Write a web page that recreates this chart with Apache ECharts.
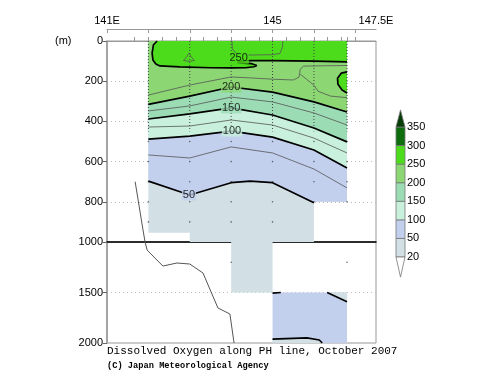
<!DOCTYPE html>
<html><head><meta charset="utf-8">
<script src="https://cdn.jsdelivr.net/npm/echarts@6/dist/echarts.min.js"></script>
<style>html,body{margin:0;padding:0;background:#fff}#c{width:500px;height:387px}</style>
</head><body><div id="c"></div>
<script>
// ---- axes / ticks ----
const lonMin = 141, lonMax = 147.5;
const lonLabelValues = [141, 145, 147.5];
const lonLabelTexts = ['141E', '145', '147.5E'];
const lonMajorTicks = [141, 142, 143, 144, 145, 146, 147];
const lonMinorTicks = [141.667, 142, 142.333, 142.667, 143, 143.333, 143.667, 144, 144.333, 144.667, 145, 145.333, 145.667, 146, 146.333, 146.667, 146.8, 147];
const stations = [142.0, 143.0, 144.0, 145.0, 146.0, 146.8];

// ---- colour scale ----
const bandLevels = [20, 50, 100, 150, 200, 250, 300, 350];
const bandColors = ['#d2dfe5', '#c2d0ee', '#c8f0dc', '#9cdcb4', '#8cd674', '#4cdc1c', '#0e6e0e'];
const overColor = '#083c08', underColor = '#ffffff';

// ---- data coverage (lon, depth m) ----
const regionUpper = [[142,0],[142,954],[143,954],[143,1000],[146,1000],[146,800],[146.8,800],[146.8,0]];
const regionLowerA = [[144,1000],[145,1000],[145,1500],[144,1500]];
const regionLowerB = [[145,1500],[146.8,1500],[146.8,2000],[145,2000]];

// ---- contours [lon, depth m] ----
const c250 = [[142.21,0],[142.12,20],[142.09,60],[142.11,95],[142.18,114],[142.28,124],[142.76,129],[143.5,133],[144.0,134],[144.35,133],[144.55,128],[144.62,122],[144.5,113],[144.3,110],[144.15,106],[144.25,100],[144.5,97],[145.0,98],[146.0,100],[146.8,104]];
const c250lobe = [[146.8,154],[146.66,160],[146.57,185],[146.58,215],[146.68,244],[146.8,259]];
const c275a = [[142.98,60],[142.92,80],[142.85,97],[142.98,101],[143.11,97],[143.04,80],[142.98,60]];
const c275b = [[144.02,0],[144.03,40],[144.12,62],[144.4,70],[145.0,68],[145.18,62],[145.24,30],[145.25,0]];
const c225a = [[142,269],[143,219],[144,179],[144.5,184],[145,190],[145.5,194],[145.64,180],[145.67,140],[145.75,125],[146.3,123],[146.8,122]];
const c225b = [[145.67,165],[145.82,190],[146.0,220],[146.1,250],[146.4,274],[146.8,282]];
const c200 = [[142,315],[143,274],[144,229],[145,254],[146,303],[146.8,353]];
const c175 = [[142,348],[143,323],[144,279],[145,303],[146,358],[146.8,418]];
const c150 = [[142,388],[143,363],[144,333],[145,368],[146,433],[146.8,502]];
const c125 = [[142,428],[143,423],[144,393],[145,418],[146,483],[146.8,557]];
const c100 = [[142,488],[143,473],[144,448],[145,478],[146,542],[146.8,632]];
const c75  = [[142,567],[143,582],[144,527],[145,557],[146,637],[146.8,731]];
const c50  = [[142,697],[143,766],[144,705],[144.46,697],[145,705],[146,805]];
const c50deep = [[145,1962],[145.5,1955],[145.83,1950],[146.13,1970],[146.2,2000]];
const c50topL = [[145,1506],[145.2,1500]];
const c50topR = [[146.32,1500],[146.8,1592]];

// contour labels [lon, depth, text, bg band index]
const contourLabels = [[144.18,86,'250',5],[144.0,229,'200',4],[144.0,333,'150',3],[144.02,448,'100',2],[142.98,766,'50',1]];

// bottom topography line
const bottomUpper = [[141.68,700],[141.87,940],[141.92,1000]];
const bottomLower = [[141.92,1000],[141.97,1080],[142.35,1238],[142.69,1208],[143.0,1218],[143.32,1307],[143.68,1653],[143.97,1713],[144.07,2000]];

// sample depths
const profileDotted = 450;
const sampleDepthsDeep = [500, 600, 700, 800, 900];
const stationBottom = [954, 1000, 1000, 1000, 800, 800];
const lowerSamples = [[144,1200],[146.8,1200]];

// ---- build ----
const fillsUpper = [
  {poly: regionUpper, color: bandColors[0]},
  {poly: [[142,0]].concat(c50, [[146,800],[146.8,800],[146.8,0]]), color: bandColors[1]},
  {poly: [[142,0]].concat(c100, [[146.8,0]]), color: bandColors[2]},
  {poly: [[142,0]].concat(c150, [[146.8,0]]), color: bandColors[3]},
  {poly: [[142,0]].concat(c200, [[146.8,0]]), color: bandColors[4]},
  {poly: c250.concat([[146.8,0]]), color: bandColors[5]},
  {poly: c250lobe, color: bandColors[5]}
];
const fillsLower = [
  {poly: regionLowerA, color: bandColors[0]},
  {poly: regionLowerB, color: bandColors[1]},
  {poly: c50deep.concat([[145,2000]]), color: bandColors[0]},
  {poly: c50topR.concat([[146.8,1500]]), color: bandColors[0]},
  {poly: c50topL.concat([[145,1500]]), color: bandColors[0]}
];

function polySeries(fills, gi) {
  return {
    type: 'custom', xAxisIndex: gi === 0 ? 0 : 2, yAxisIndex: gi, clip: true, silent: true,
    data: fills.map((f, i) => [i, 0]),
    renderItem: function (params, api) {
      const f = fills[params.dataIndex];
      return {type: 'polygon', shape: {points: f.poly.map(p => api.coord(p))}, style: {fill: f.color}};
    }
  };
}
function lineS(data, gi, thick, extra) {
  return Object.assign({
    type: 'line', xAxisIndex: gi === 0 ? 0 : 2, yAxisIndex: gi, data: data, symbol: 'none', silent: true,
    lineStyle: thick ? {color: '#000', width: 1.7} : {color: '#555', width: 0.8}, z: 3
  }, extra || {});
}

const series = [];
series.push(polySeries(fillsUpper, 0));
series.push(polySeries(fillsLower, 1));
// station sample dots / dotted profiles
stations.forEach((s, i) => {
  series.push(lineS([[s, 0], [s, Math.min(profileDotted, stationBottom[i])]], 0, false,
    {lineStyle: {color: '#444', width: 1, type: [1, 2]}, z: 2}));
});
const deepDots = [];
stations.forEach((s, i) => sampleDepthsDeep.forEach(d => { if (d <= stationBottom[i]) deepDots.push([s, d]); }));
series.push({type: 'scatter', xAxisIndex: 0, yAxisIndex: 0, data: deepDots, symbolSize: 1.6, itemStyle: {color: '#444'}, silent: true, z: 2});
series.push({type: 'scatter', xAxisIndex: 2, yAxisIndex: 1, data: lowerSamples, symbolSize: 1.6, itemStyle: {color: '#444'}, silent: true, z: 2});
// contours
[c275a, c275b, c225a, c225b, c175, c125, c75].forEach(c => series.push(lineS(c, 0, false)));
[c250, c250lobe, c200, c150, c100, c50].forEach(c => series.push(lineS(c, 0, true)));
[c50deep, c50topL, c50topR].forEach(c => series.push(lineS(c, 1, true)));
// bottom line
series.push(lineS(bottomUpper, 0, false, {lineStyle: {color: '#555', width: 1}, z: 4}));
series.push(lineS(bottomLower, 1, false, {lineStyle: {color: '#555', width: 1}, z: 4}));
// contour labels
series.push({
  type: 'scatter', xAxisIndex: 0, yAxisIndex: 0, symbolSize: 0, silent: true, z: 6,
  data: contourLabels.map(l => ({value: [l[0], l[1]], label: {backgroundColor: bandColors[l[3]]}})),
  label: {show: true, position: 'inside', fontSize: 11, color: '#000', padding: [0, 1],
    formatter: p => contourLabels[p.dataIndex][2]}
});
// colour bar
series.push({
  type: 'custom', xAxisIndex: 3, yAxisIndex: 2, silent: true, clip: false,
  data: bandColors.map((c, i) => [i, 0]),
  renderItem: function (params, api) {
    const i = params.dataIndex;
    const a = api.coord([0, i]), b = api.coord([1, i + 1]);
    return {type: 'rect', shape: {x: a[0], y: b[1], width: b[0] - a[0], height: a[1] - b[1]},
      style: {fill: bandColors[i], stroke: '#777', lineWidth: 0.8}};
  }
});
series.push({
  type: 'custom', xAxisIndex: 3, yAxisIndex: 2, silent: true, clip: false,
  data: [[0, 0], [1, 0]],
  renderItem: function (params, api) {
    const top = params.dataIndex === 0;
    const base = top ? bandColors.length : 0;
    const apex = top ? base + 0.92 : base - 1.08;
    const pts = [api.coord([0, base]), api.coord([1, base]), api.coord([0.5, apex])];
    return {type: 'polygon', shape: {points: pts},
      style: {fill: top ? overColor : underColor, stroke: '#777', lineWidth: 0.8}};
  }
});

const gray = '#999';
const option = {
  animation: false,
  textStyle: {fontFamily: 'Liberation Sans, Arial, sans-serif'},
  title: [
    {text: 'Dissolved Oxygen along PH line, October 2007', left: 107, top: 346, padding: 0,
      textStyle: {fontFamily: 'Liberation Mono, monospace', fontSize: 11, fontWeight: 'normal', color: '#000'}},
    {text: '(C) Japan Meteorological Agency', left: 107, top: 361, padding: 0,
      textStyle: {fontFamily: 'Liberation Mono, monospace', fontSize: 8.7, fontWeight: 'bold', color: '#000'}},
    {text: '(m)', left: 55, top: 35, padding: 0,
      textStyle: {fontFamily: 'Liberation Sans, Arial, sans-serif', fontSize: 11, fontWeight: 'normal', color: '#000'}}
  ],
  grid: [
    {left: 107, top: 41, width: 269, height: 201, show: true, borderColor: gray, borderWidth: 1, backgroundColor: 'transparent'},
    {left: 107, top: 242, width: 269, height: 101, show: true, borderColor: gray, borderWidth: 1, backgroundColor: 'transparent'},
    {left: 396, top: 108.43, width: 9, height: 169}
  ],
  xAxis: [
    {type: 'value', gridIndex: 0, min: lonMin, max: lonMax, position: 'top',
      axisLine: {show: true, lineStyle: {color: gray, width: 1}},
      axisTick: {show: true, customValues: lonMinorTicks, length: 4, inside: false, lineStyle: {color: gray}},
      axisLabel: {show: false}, splitLine: {show: false}},
    {type: 'value', gridIndex: 0, min: lonMin, max: lonMax, position: 'top', offset: 12,
      axisLine: {show: true, lineStyle: {color: gray, width: 1}},
      axisTick: {show: true, customValues: lonMajorTicks, length: 4, inside: true, lineStyle: {color: gray}},
      axisLabel: {show: true, customValues: lonLabelValues, fontSize: 11, color: '#000', margin: 3,
        formatter: v => lonLabelTexts[lonLabelValues.indexOf(v)] || ''},
      splitLine: {show: false}},
    {type: 'value', gridIndex: 1, min: lonMin, max: lonMax, position: 'top',
      axisLine: {show: true, lineStyle: {color: '#000', width: 1.5}},
      axisTick: {show: false}, axisLabel: {show: false}, splitLine: {show: false}},
    {type: 'value', gridIndex: 2, min: 0, max: 1, show: false}
  ],
  yAxis: [
    {type: 'value', gridIndex: 0, inverse: true, min: 0, max: 1000, interval: 200,
      axisLine: {show: true, lineStyle: {color: gray, width: 1.5}},
      axisTick: {show: true, length: 4, lineStyle: {color: '#666'}},
      axisLabel: {fontSize: 11, color: '#000', margin: 4, formatter: v => String(v)},
      splitLine: {show: true, showMinLine: false, showMaxLine: false, lineStyle: {color: '#bbb', type: [1, 3]}}},
    {type: 'value', gridIndex: 1, inverse: true, min: 1000, max: 2000, interval: 500,
      axisLine: {show: true, lineStyle: {color: gray, width: 1.5}},
      axisTick: {show: true, length: 4, lineStyle: {color: '#666'}},
      axisLabel: {fontSize: 11, color: '#000', margin: 4, showMinLabel: false, formatter: v => String(v)},
      splitLine: {show: true, showMinLine: false, showMaxLine: false, lineStyle: {color: '#bbb', type: [1, 3]}}},
    {type: 'value', gridIndex: 2, min: -1.1, max: 8, position: 'right',
      axisLine: {show: false}, axisTick: {show: false}, splitLine: {show: false},
      axisLabel: {show: true, customValues: [0, 1, 2, 3, 4, 5, 6, 7], fontSize: 11, color: '#000', margin: 2,
        formatter: v => String(bandLevels[Math.round(v)])}}
  ],
  series: series
};
echarts.init(document.getElementById('c'), null, {renderer: 'canvas'}).setOption(option);
</script></body></html>
